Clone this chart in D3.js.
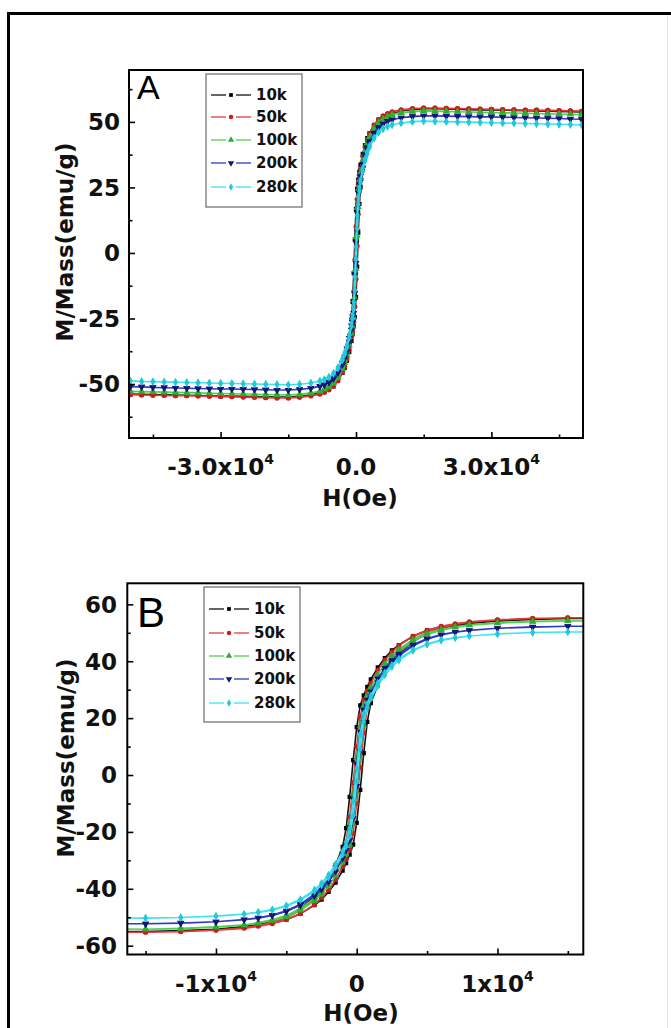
<!DOCTYPE html>
<html>
<head>
<meta charset="utf-8">
<script src="https://cdn.jsdelivr.net/npm/d3@7"></script>
<style>
  body { margin: 0; background: #fff; }
  svg { display: block; }
</style>
</head>
<body>
<svg id="fig" width="671" height="1028"></svg>
<script>
// ---- Measured hysteresis loops: magnetization (emu/g) vs applied field (Oe) ----
const seriesNames = ["10k", "50k", "100k", "200k", "280k"];

// field sweep from +50 kOe down to -50 kOe
const fieldDown = [50000, 47500, 45000, 42500, 40000, 37500, 35000, 32500, 30000, 27500, 25000, 22500, 20000, 17500, 15000,
  12500, 10000, 8000, 7000, 6000, 5000, 4000, 3000, 2500, 2000, 1500, 1000, 750, 500, 250,
  0,
  -250, -500, -750, -1000, -1500, -2000, -2500, -3000, -4000, -5000, -6000, -7000, -8000, -10000, -12500,
  -15000, -17500, -20000, -22500, -25000, -27500, -30000, -32500, -35000, -37500, -40000, -42500, -45000, -47500, -50000];

// return sweep from -50 kOe up to +50 kOe
const fieldUp = [-50000, -47500, -45000, -42500, -40000, -37500, -35000, -32500, -30000, -27500, -25000, -22500, -20000, -17500, -15000,
  -12500, -10000, -8000, -7000, -6000, -5000, -4000, -3000, -2500, -2000, -1500, -1000, -750, -500, -250,
  0,
  250, 500, 750, 1000, 1500, 2000, 2500, 3000, 4000, 5000, 6000, 7000, 8000, 10000, 12500,
  15000, 17500, 20000, 22500, 25000, 27500, 30000, 32500, 35000, 37500, 40000, 42500, 45000, 47500, 50000];

const m10kDown = [53.8, 53.9, 54.0, 54.1, 54.2, 54.3, 54.4, 54.5, 54.6, 54.6, 54.7, 54.8, 54.9, 55.0, 55.0,
  54.8, 54.3, 53.7, 53.0, 52.1, 50.9, 48.8, 45.7, 43.8, 41.1, 37.8, 33.6, 31.0, 28.0, 24.5,
  16.8,
  5.2, -7.7, -18.7, -25.3, -31.6, -36.3, -40.0, -42.8, -46.9, -49.7, -51.4, -52.5, -53.3, -54.2, -54.7,
  -55.0, -55.0, -54.9, -54.8, -54.7, -54.6, -54.6, -54.5, -54.4, -54.3, -54.2, -54.1, -54.0, -53.9, -53.8];
const m10kUp = [-53.8, -53.9, -54.0, -54.1, -54.2, -54.3, -54.4, -54.5, -54.6, -54.6, -54.7, -54.8, -54.9, -55.0, -55.0,
  -54.8, -54.3, -53.7, -53.0, -52.1, -50.9, -48.8, -45.7, -43.8, -41.1, -37.8, -33.6, -31.0, -28.0, -24.5,
  -16.8,
  -5.2, 7.7, 18.7, 25.3, 31.6, 36.3, 40.0, 42.8, 46.9, 49.7, 51.4, 52.5, 53.3, 54.2, 54.7,
  55.0, 55.0, 54.9, 54.8, 54.7, 54.6, 54.6, 54.5, 54.4, 54.3, 54.2, 54.1, 54.0, 53.9, 53.8];

const m50kDown = [54.1, 54.2, 54.3, 54.4, 54.5, 54.5, 54.6, 54.7, 54.8, 54.9, 55.0, 55.1, 55.2, 55.3, 55.3,
  55.1, 54.6, 53.9, 53.2, 52.3, 50.9, 48.8, 45.5, 43.2, 40.4, 36.8, 32.2, 29.6, 26.3, 20.5,
  10.0,
  -2.6, -14.8, -23.4, -27.7, -33.2, -37.6, -41.1, -43.7, -47.7, -50.2, -51.8, -52.9, -53.7, -54.5, -55.0,
  -55.3, -55.3, -55.2, -55.1, -55.0, -54.9, -54.8, -54.7, -54.6, -54.5, -54.5, -54.4, -54.3, -54.2, -54.1];
const m50kUp = [-54.1, -54.2, -54.3, -54.4, -54.5, -54.5, -54.6, -54.7, -54.8, -54.9, -55.0, -55.1, -55.2, -55.3, -55.3,
  -55.1, -54.6, -53.9, -53.2, -52.3, -50.9, -48.8, -45.5, -43.2, -40.4, -36.8, -32.2, -29.6, -26.3, -20.5,
  -10.0,
  2.6, 14.8, 23.4, 27.7, 33.2, 37.6, 41.1, 43.7, 47.7, 50.2, 51.8, 52.9, 53.7, 54.5, 55.0,
  55.3, 55.3, 55.2, 55.1, 55.0, 54.9, 54.8, 54.7, 54.6, 54.5, 54.5, 54.4, 54.3, 54.2, 54.1];

const m100kDown = [52.8, 52.9, 53.0, 53.1, 53.2, 53.3, 53.4, 53.5, 53.6, 53.7, 53.8, 53.9, 54.0, 54.1, 54.2,
  54.0, 53.5, 52.8, 52.1, 51.2, 49.9, 47.6, 44.3, 42.0, 39.1, 35.4, 30.7, 27.9, 24.5, 17.2,
  6.0,
  -6.6, -17.5, -24.7, -28.2, -33.3, -37.6, -40.8, -43.3, -47.0, -49.4, -50.9, -51.9, -52.7, -53.4, -53.9,
  -54.2, -54.1, -54.0, -53.9, -53.8, -53.7, -53.6, -53.5, -53.4, -53.3, -53.2, -53.1, -53.0, -52.9, -52.8];
const m100kUp = [-52.8, -52.9, -53.0, -53.1, -53.2, -53.3, -53.4, -53.5, -53.6, -53.7, -53.8, -53.9, -54.0, -54.1, -54.2,
  -54.0, -53.5, -52.8, -52.1, -51.2, -49.9, -47.6, -44.3, -42.0, -39.1, -35.4, -30.7, -27.9, -24.5, -17.2,
  -6.0,
  6.6, 17.5, 24.7, 28.2, 33.3, 37.6, 40.8, 43.3, 47.0, 49.4, 50.9, 51.9, 52.7, 53.4, 53.9,
  54.2, 54.1, 54.0, 53.9, 53.8, 53.7, 53.6, 53.5, 53.4, 53.3, 53.2, 53.1, 53.0, 52.9, 52.8];

const m200kDown = [51.0, 51.1, 51.3, 51.4, 51.5, 51.6, 51.7, 51.8, 51.9, 51.9, 52.0, 52.1, 52.2, 52.3, 52.3,
  52.1, 51.6, 50.9, 50.3, 49.4, 48.0, 45.8, 42.6, 40.3, 37.6, 33.9, 29.3, 26.4, 22.9, 15.2,
  3.9,
  -8.3, -18.4, -24.3, -27.7, -32.5, -36.5, -39.5, -41.9, -45.4, -47.7, -49.2, -50.2, -50.8, -51.6, -52.0,
  -52.3, -52.3, -52.2, -52.1, -52.0, -51.9, -51.9, -51.8, -51.7, -51.6, -51.5, -51.4, -51.3, -51.1, -51.0];
const m200kUp = [-51.0, -51.1, -51.3, -51.4, -51.5, -51.6, -51.7, -51.8, -51.9, -51.9, -52.0, -52.1, -52.2, -52.3, -52.3,
  -52.1, -51.6, -50.9, -50.3, -49.4, -48.0, -45.8, -42.6, -40.3, -37.6, -33.9, -29.3, -26.4, -22.9, -15.2,
  -3.9,
  8.3, 18.4, 24.3, 27.7, 32.5, 36.5, 39.5, 41.9, 45.4, 47.7, 49.2, 50.2, 50.8, 51.6, 52.0,
  52.3, 52.3, 52.2, 52.1, 52.0, 51.9, 51.9, 51.8, 51.7, 51.6, 51.5, 51.4, 51.3, 51.1, 51.0];

const m280kDown = [48.8, 49.0, 49.1, 49.2, 49.3, 49.4, 49.5, 49.6, 49.7, 49.8, 49.9, 50.0, 50.1, 50.2, 50.3,
  50.1, 49.6, 48.9, 48.3, 47.5, 46.1, 44.0, 40.9, 38.7, 36.0, 32.4, 27.9, 25.0, 21.5, 14.3,
  2.3,
  -9.1, -18.6, -23.6, -26.8, -31.3, -35.1, -38.0, -40.3, -43.7, -45.9, -47.3, -48.2, -48.9, -49.6, -50.1,
  -50.3, -50.2, -50.1, -50.0, -49.9, -49.8, -49.7, -49.6, -49.5, -49.4, -49.3, -49.2, -49.1, -49.0, -48.8];
const m280kUp = [-48.8, -49.0, -49.1, -49.2, -49.3, -49.4, -49.5, -49.6, -49.7, -49.8, -49.9, -50.0, -50.1, -50.2, -50.3,
  -50.1, -49.6, -48.9, -48.3, -47.5, -46.1, -44.0, -40.9, -38.7, -36.0, -32.4, -27.9, -25.0, -21.5, -14.3,
  -2.3,
  9.1, 18.6, 23.6, 26.8, 31.3, 35.1, 38.0, 40.3, 43.7, 45.9, 47.3, 48.2, 48.9, 49.6, 50.1,
  50.3, 50.2, 50.1, 50.0, 49.9, 49.8, 49.7, 49.6, 49.5, 49.4, 49.3, 49.2, 49.1, 49.0, 48.8];

const downBranches = [m10kDown, m50kDown, m100kDown, m200kDown, m280kDown];
const upBranches = [m10kUp, m50kUp, m100kUp, m200kUp, m280kUp];

// axis ticks and labels
const xMajorA = [-30000, 0, 30000];
const xLabelsA = [["-3.0x10", "4"], ["0.0", ""], ["3.0x10", "4"]];
const xMinorA = [-45000, -15000, 15000, 45000];
const yMajorA = [-50, -25, 0, 25, 50];
const yMinorA = [-62.5, -37.5, -12.5, 12.5, 37.5, 62.5];

const xMajorB = [-10000, 0, 10000];
const xLabelsB = [["-1x10", "4"], ["0", ""], ["1x10", "4"]];
const xMinorB = [-15000, -5000, 5000, 15000];
const yMajorB = [-60, -40, -20, 0, 20, 40, 60];
const yMinorB = [-50, -30, -10, 10, 30, 50];

// ---- styling ----
const lineColors = ["#111111", "#e23b3b", "#4fcf4f", "#2b3cc4", "#3fe2ee"];
const markColors = ["#000000", "#c81e1e", "#2fae2f", "#14147a", "#22c9d8"];
const markTypes = [d3.symbolSquare, d3.symbolCircle, d3.symbolTriangle, d3.symbolTriangle, d3.symbolDiamond];
const markRotate = [0, 0, 0, 180, 0];
const markSizes = [18, 20, 22, 22, 20];
const BOLD = "'DejaVu Sans', sans-serif";

const svg = d3.select("#fig");

// outer figure border
svg.append("line").attr("x1", 8.5).attr("y1", 13.5).attr("x2", 8.5).attr("y2", 1028)
  .attr("stroke", "#000").attr("stroke-width", 3);
svg.append("line").attr("x1", 7).attr("y1", 13.5).attr("x2", 671).attr("y2", 13.5)
  .attr("stroke", "#000").attr("stroke-width", 3);
svg.append("line").attr("x1", 667.5).attr("y1", 15).attr("x2", 667.5).attr("y2", 1028)
  .attr("stroke", "#e4e4e4").attr("stroke-width", 1);

function drawPanel(cfg) {
  const g = svg.append("g");
  const x = d3.scaleLinear().domain(cfg.xDomain).range([cfg.left, cfg.right]);
  const y = d3.scaleLinear().domain(cfg.yDomain).range([cfg.bottom, cfg.top]);

  const clipId = "clip-" + cfg.id;
  svg.append("clipPath").attr("id", clipId).append("rect")
    .attr("x", cfg.left).attr("y", cfg.top)
    .attr("width", cfg.right - cfg.left).attr("height", cfg.bottom - cfg.top);

  const plot = g.append("g").attr("clip-path", `url(#${clipId})`);
  const line = d3.line().x(d => x(d[0])).y(d => y(d[1]));

  seriesNames.forEach((name, i) => {
    const pts = fieldDown.map((h, k) => [h, downBranches[i][k]])
      .concat(fieldUp.map((h, k) => [h, upBranches[i][k]]));
    plot.append("path").attr("d", line(pts))
      .attr("fill", "none").attr("stroke", lineColors[i]).attr("stroke-width", 1.6);
    const sym = d3.symbol().type(markTypes[i]).size(markSizes[i]);
    plot.append("g").selectAll("path").data(pts).join("path")
      .attr("transform", d => `translate(${x(d[0])},${y(d[1])}) rotate(${markRotate[i]})`)
      .attr("d", sym).attr("fill", markColors[i]);
  });

  // inward ticks
  const tickStyle = sel => sel.call(s => s.select(".domain").remove())
    .selectAll("line").attr("stroke", "#000").attr("stroke-width", 1.6);
  g.append("g").attr("transform", `translate(0,${cfg.bottom})`)
    .call(d3.axisBottom(x).tickValues(cfg.xMajor).tickSize(-6).tickFormat("")).call(tickStyle);
  g.append("g").attr("transform", `translate(0,${cfg.bottom})`)
    .call(d3.axisBottom(x).tickValues(cfg.xMinor).tickSize(-3.5).tickFormat("")).call(tickStyle);
  g.append("g").attr("transform", `translate(${cfg.left},0)`)
    .call(d3.axisLeft(y).tickValues(cfg.yMajor).tickSize(-6).tickFormat("")).call(tickStyle);
  g.append("g").attr("transform", `translate(${cfg.left},0)`)
    .call(d3.axisLeft(y).tickValues(cfg.yMinor).tickSize(-3.5).tickFormat("")).call(tickStyle);

  // frame
  g.append("rect").attr("x", cfg.left).attr("y", cfg.top)
    .attr("width", cfg.right - cfg.left).attr("height", cfg.bottom - cfg.top)
    .attr("fill", "none").attr("stroke", "#000").attr("stroke-width", 2);

  // x tick labels with exponents
  cfg.xMajor.forEach((v, k) => {
    const t = g.append("text").attr("x", x(v)).attr("y", cfg.xLabelY)
      .attr("text-anchor", "middle").attr("font-family", BOLD).attr("font-weight", "bold")
      .attr("font-size", 23).attr("fill", "#111");
    t.append("tspan").text(cfg.xLabels[k][0]);
    if (cfg.xLabels[k][1]) {
      t.append("tspan").attr("dy", -11).attr("font-size", 14).text(cfg.xLabels[k][1]);
    }
  });

  // y tick labels
  cfg.yMajor.forEach(v => {
    g.append("text").attr("x", cfg.yLabelX).attr("y", y(v)).attr("dy", "0.36em")
      .attr("text-anchor", "end").attr("font-family", BOLD).attr("font-weight", "bold")
      .attr("font-size", 23).attr("fill", "#111").text(v);
  });

  // axis titles
  g.append("text").attr("x", cfg.xTitleX).attr("y", cfg.xTitleY).attr("text-anchor", "middle")
    .attr("font-family", BOLD).attr("font-weight", "bold").attr("font-size", 23).attr("fill", "#111")
    .text("H(Oe)");
  g.append("text").attr("transform", `translate(${cfg.yTitleX},${cfg.yTitleY}) rotate(-90)`)
    .attr("text-anchor", "middle")
    .attr("font-family", BOLD).attr("font-weight", "bold").attr("font-size", 23).attr("fill", "#111")
    .text("M/Mass(emu/g)");

  // panel letter
  g.append("text").attr("x", cfg.letterX).attr("y", cfg.letterY)
    .attr("font-family", "'Liberation Sans', Arial, sans-serif").attr("font-size", cfg.letterSize)
    .attr("fill", "#000").text(cfg.letter);

  // legend
  const lg = g.append("g");
  lg.append("rect").attr("x", cfg.legX).attr("y", cfg.legY).attr("width", cfg.legW).attr("height", cfg.legH)
    .attr("fill", "#fff").attr("stroke", "#6a6a6a").attr("stroke-width", 1.2);
  seriesNames.forEach((name, i) => {
    const ry = cfg.legRows[i];
    const x0 = cfg.legX + 5, x1 = cfg.legX + 45, xm = (x0 + x1) / 2;
    lg.append("line").attr("x1", x0).attr("x2", xm - 5).attr("y1", ry).attr("y2", ry)
      .attr("stroke", lineColors[i]).attr("stroke-width", 1.3);
    lg.append("line").attr("x1", xm + 5).attr("x2", x1).attr("y1", ry).attr("y2", ry)
      .attr("stroke", lineColors[i]).attr("stroke-width", 1.3);
    lg.append("path").attr("transform", `translate(${xm},${ry}) rotate(${markRotate[i]})`)
      .attr("d", d3.symbol().type(markTypes[i]).size(markSizes[i] - 4)()).attr("fill", markColors[i]);
    lg.append("text").attr("x", cfg.legX + 50).attr("y", ry).attr("dy", "0.36em")
      .attr("font-family", BOLD).attr("font-weight", "bold").attr("font-size", 15)
      .attr("fill", "#111").text(name);
  });
}

drawPanel({
  id: "a", letter: "A", letterX: 137, letterY: 99, letterSize: 34,
  left: 129, right: 583, top: 70, bottom: 438,
  xDomain: [-50300, 50300], yDomain: [-70.6, 69.8],
  xMajor: xMajorA, xLabels: xLabelsA, xMinor: xMinorA,
  yMajor: yMajorA, yMinor: yMinorA,
  xLabelY: 475, yLabelX: 120,
  xTitleX: 360, xTitleY: 506, yTitleX: 73, yTitleY: 242,
  legX: 206, legY: 74, legW: 96, legH: 133, legRows: [95, 117, 140, 163, 187]
});

drawPanel({
  id: "b", letter: "B", letterX: 137, letterY: 627, letterSize: 42,
  left: 127.3, right: 583.3, top: 583.3, bottom: 954.5,
  xDomain: [-16300, 16100], yDomain: [-63.1, 67.4],
  xMajor: xMajorB, xLabels: xLabelsB, xMinor: xMinorB,
  yMajor: yMajorB, yMinor: yMinorB,
  xLabelY: 992, yLabelX: 117,
  xTitleX: 361, xTitleY: 1021, yTitleX: 74, yTitleY: 758,
  legX: 204, legY: 587, legW: 96, legH: 135, legRows: [609, 633, 656, 679, 703]
});
</script>
</body>
</html>
